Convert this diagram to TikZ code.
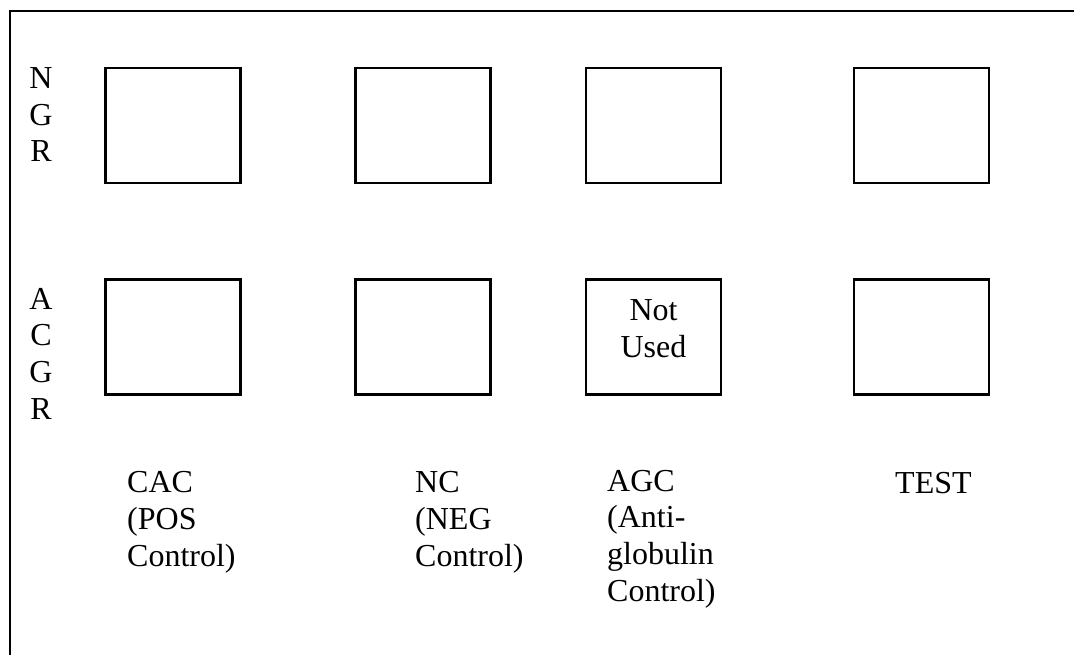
\documentclass[tikz,border=0pt]{standalone}
\usepackage{fontspec}
\setmainfont{Liberation Serif}
\usetikzlibrary{math}

\begin{document}
\begin{tikzpicture}[x=1pt, y=-1pt,
    well/.style={draw, line width=2.5pt, minimum width=135pt, minimum height=115pt, inner sep=0pt},
    lbl/.style={font=\fontsize{32}{36.6}\selectfont, inner sep=0pt}]
  \tikzmath{%
    \xa = 173; \xb = 423; \xc = 653.5; \xd = 921.5;
    \ya = 125.5; \yb = 337;
  }
  \useasboundingbox (0,0) rectangle (1074,655);

  \draw[line width=2.5pt] (10,655) -- (10,11) -- (1074,11);

  % row labels (anchored on the last line)
  \node[lbl, align=center, anchor=base] (ngr) at (41,162) {N\\G\\R};
  \node[lbl, align=center, anchor=base] (acgr) at (41,419) {A\\C\\G\\R};

  % wells
  \node[well] (ngrA) at (\xa,\ya) {};
  \node[well] (ngrB) at (\xb,\ya) {};
  \node[well] (ngrC) at (\xc,\ya) {};
  \node[well] (ngrD) at (\xd,\ya) {};
  \node[well] (acgrA) at (\xa,\yb) {};
  \node[well] (acgrB) at (\xb,\yb) {};
  \node[well] (acgrC) at (\xc,\yb) {};
  \node[well] (acgrD) at (\xd,\yb) {};
  \node[lbl, align=center, anchor=base] (notused) at (\xc,357) {Not\\Used};

  % column labels
  \node[lbl, align=left, anchor=base west] (cac) at (127,566) {CAC\\(POS\\Control)};
  \node[lbl, align=left, anchor=base west] (nc) at (415,566) {NC\\(NEG\\Control)};
  \node[lbl, align=left, anchor=base west] (agc) at (607,601) {AGC\\(Anti-\\globulin\\Control)};
  \node[lbl, align=left, anchor=base west] (test) at (895,493) {TEST};
\end{tikzpicture}
\end{document}
